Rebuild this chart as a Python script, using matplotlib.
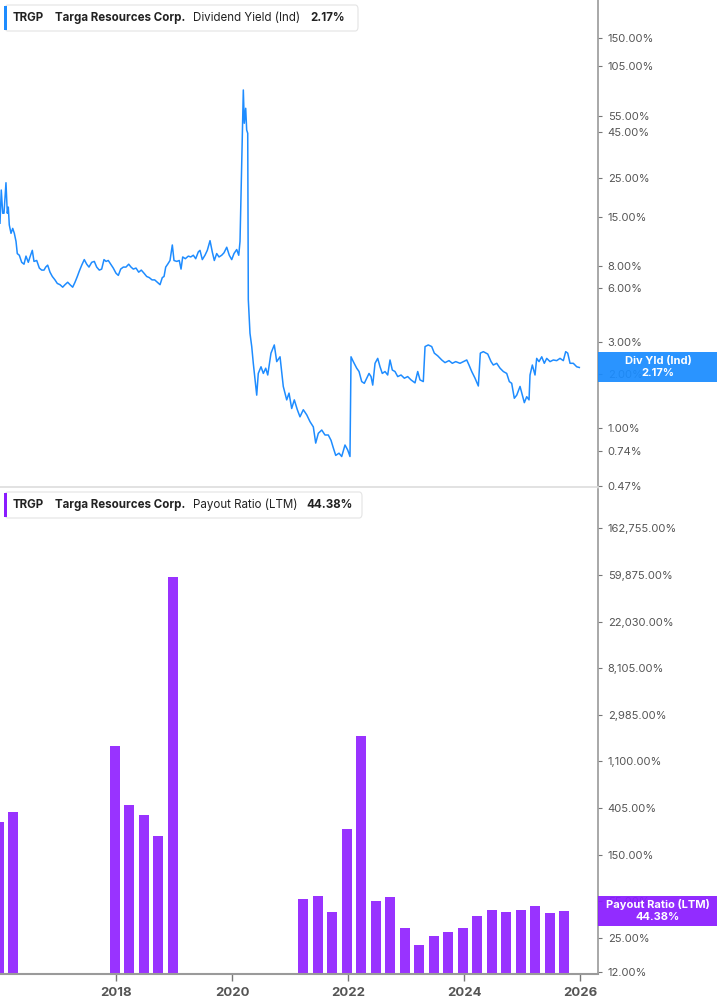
import matplotlib
matplotlib.use("Agg")
import matplotlib.pyplot as plt
from matplotlib.patches import Rectangle, FancyBboxPatch
from matplotlib.ticker import FixedLocator, NullLocator, FixedFormatter

plt.rcParams['font.family'] = ['Inter', 'DejaVu Sans']

# ---------------- data ----------------
ticker = "TRGP"
company = "Targa Resources Corp."
top_metric = "Dividend Yield (Ind)"
top_last_label = "2.17%"
bot_metric = "Payout Ratio (LTM)"
bot_last_label = "44.38%"

dy_year = [2016.000, 2016.022, 2016.047, 2016.069, 2016.103, 2016.126, 2016.143, 2016.160,
           2016.190, 2016.219, 2016.247, 2016.276, 2016.298, 2016.333, 2016.374, 2016.414,
           2016.448, 2016.488, 2016.517, 2016.557, 2016.586, 2016.633, 2016.678, 2016.719,
           2016.759, 2016.788, 2016.822, 2016.862, 2016.902, 2016.948, 2016.988, 2017.034,
           2017.081, 2017.121, 2017.167, 2017.207, 2017.253, 2017.293, 2017.333, 2017.367,
           2017.409, 2017.453, 2017.495, 2017.534, 2017.581, 2017.626, 2017.667, 2017.712,
           2017.753, 2017.793, 2017.828, 2017.867, 2017.909, 2017.953, 2018.000, 2018.040,
           2018.081, 2018.126, 2018.172, 2018.219, 2018.259, 2018.298, 2018.345, 2018.391,
           2018.436, 2018.483, 2018.529, 2018.574, 2018.621, 2018.667, 2018.712, 2018.759,
           2018.798, 2018.828, 2018.857, 2018.891, 2018.931, 2018.971, 2019.000, 2019.047,
           2019.091, 2019.121, 2019.150, 2019.195, 2019.247, 2019.288, 2019.333, 2019.374,
           2019.419, 2019.448, 2019.488, 2019.534, 2019.574, 2019.621, 2019.660, 2019.695,
           2019.736, 2019.776, 2019.822, 2019.862, 2019.909, 2019.953, 2019.995, 2020.034,
           2020.081, 2020.116, 2020.138, 2020.167, 2020.195, 2020.212, 2020.236, 2020.253,
           2020.271, 2020.281, 2020.310, 2020.340, 2020.367, 2020.426, 2020.453, 2020.500,
           2020.540, 2020.581, 2020.616, 2020.672, 2020.729, 2020.771, 2020.828, 2020.884,
           2020.943, 2020.983, 2021.029, 2021.074, 2021.126, 2021.172, 2021.229, 2021.288,
           2021.345, 2021.402, 2021.443, 2021.488, 2021.547, 2021.603, 2021.660, 2021.707,
           2021.747, 2021.788, 2021.845, 2021.891, 2021.948, 2021.995, 2022.034, 2022.052,
           2022.091, 2022.150, 2022.190, 2022.236, 2022.281, 2022.322, 2022.362, 2022.397,
           2022.426, 2022.466, 2022.512, 2022.552, 2022.591, 2022.638, 2022.684, 2022.724,
           2022.764, 2022.810, 2022.857, 2022.914, 2022.971, 2023.029, 2023.086, 2023.155,
           2023.202, 2023.241, 2023.298, 2023.328, 2023.384, 2023.443, 2023.488, 2023.547,
           2023.616, 2023.672, 2023.741, 2023.798, 2023.857, 2023.931, 2023.988, 2024.047,
           2024.086, 2024.133, 2024.190, 2024.247, 2024.281, 2024.333, 2024.409, 2024.466,
           2024.505, 2024.564, 2024.621, 2024.678, 2024.736, 2024.781, 2024.822, 2024.867,
           2024.909, 2024.966, 2025.005, 2025.040, 2025.081, 2025.121, 2025.138, 2025.178,
           2025.224, 2025.253, 2025.293, 2025.340, 2025.384, 2025.426, 2025.483, 2025.540,
           2025.598, 2025.655, 2025.712, 2025.753, 2025.788, 2025.828, 2025.884, 2025.943,
           2025.988]
dy_value = [13.9, 21.3, 15.8, 15.8, 23.4, 15.8, 17.1, 13.6,
            12.2, 13.0, 12.2, 11.0, 9.4, 9.2, 8.4, 8.2,
            9.1, 8.4, 9.0, 9.8, 8.5, 8.6, 7.8, 7.6,
            7.6, 7.9, 8.1, 7.4, 7.0, 6.7, 6.4, 6.3,
            6.1, 6.3, 6.5, 6.3, 6.1, 6.5, 7.0, 7.5,
            8.1, 8.7, 8.2, 7.9, 8.4, 8.5, 7.9, 7.6,
            7.7, 8.7, 8.5, 8.6, 8.2, 7.8, 7.3, 7.1,
            7.7, 7.9, 7.9, 8.2, 7.9, 7.7, 7.8, 7.4,
            7.6, 7.3, 7.0, 6.9, 6.7, 6.7, 6.5, 6.3,
            6.9, 7.0, 7.9, 8.2, 8.6, 10.5, 8.6, 8.5,
            8.6, 7.7, 9.0, 8.8, 9.1, 9.0, 9.2, 8.8,
            9.6, 9.8, 8.7, 9.2, 9.8, 11.1, 9.6, 8.6,
            9.4, 9.0, 9.2, 9.5, 10.2, 9.2, 8.7, 9.4,
            9.9, 9.2, 11.0, 28.8, 77.2, 50.3, 61.0, 46.1,
            44.2, 5.2, 3.37, 2.84, 2.29, 1.52, 2.01, 2.19,
            2.01, 2.15, 1.97, 2.61, 2.90, 2.34, 2.49, 1.70,
            1.43, 1.56, 1.28, 1.43, 1.26, 1.15, 1.26, 1.18,
            1.08, 1.01, 0.82, 0.93, 0.97, 0.91, 0.91, 0.85,
            0.77, 0.70, 0.72, 0.69, 0.80, 0.75, 0.69, 2.49,
            2.34, 2.15, 2.06, 1.81, 1.77, 1.89, 2.01, 1.93,
            1.73, 2.29, 2.44, 2.19, 2.01, 2.06, 1.97, 2.39,
            2.10, 2.06, 1.93, 1.97, 1.89, 1.93, 1.85, 1.78,
            2.06, 1.85, 1.81, 2.84, 2.90, 2.84, 2.61, 2.52,
            2.39, 2.31, 2.37, 2.29, 2.34, 2.29, 2.34, 2.39,
            2.24, 2.06, 1.89, 1.71, 2.61, 2.66, 2.58, 2.34,
            2.24, 2.29, 2.15, 2.06, 2.01, 1.81, 1.77, 1.46,
            1.52, 1.70, 1.52, 1.38, 1.49, 1.43, 1.97, 2.24,
            1.97, 2.44, 2.34, 2.49, 2.29, 2.44, 2.34, 2.39,
            2.37, 2.44, 2.37, 2.66, 2.61, 2.29, 2.29, 2.19,
            2.17]

pr_year = [2015, 2016, 2017, 2018, 2018, 2018, 2018,
           2021, 2021, 2021, 2021, 2022, 2022, 2022, 2022,
           2023, 2023, 2023, 2023, 2024, 2024, 2024, 2024,
           2025, 2025, 2025]
pr_quarter = [4, 1, 4, 1, 2, 3, 4,
              1, 2, 3, 4, 1, 2, 3, 4,
              1, 2, 3, 4, 1, 2, 3, 4,
              1, 2, 3]
pr_value = [301, 373, 1533, 433, 350, 223, 57200,
            57.5, 61.8, 43.8, 259, 1910, 55.5, 60.0, 31.1,
            21.6, 26.4, 28.6, 31.1, 40.0, 46.0, 43.8, 46.0,
            50.2, 42.9, 44.38]

top_ticks = [150, 105, 55, 45, 25, 15, 8, 6, 3, 2, 1, 0.74, 0.47]
bot_ticks = [162755, 59875, 22030, 8105, 2985, 1100, 405, 150, 55, 25, 12]
year_ticks = [2018, 2020, 2022, 2024, 2026]

# ---------------- style ----------------
W, H = 717, 1005
BLUE = "#1E8CFF"
BLUE_BOX = "#1A8CFF"
PURPLE = "#9933FF"
PURPLE_BOX = "#8A1CFF"
TICKC = "#555555"
AXC = "#9a9a9a"

fig = plt.figure(figsize=(W / 100, H / 100), dpi=100)

def fx(px):
    return px / W

def fy(py):
    return 1 - py / H

ax_right = 598
top_bot = 487.5
bot_top = 489
bot_bot = 974

ax1 = fig.add_axes([0, fy(top_bot), fx(ax_right), top_bot / H])
ax2 = fig.add_axes([0, fy(bot_bot), fx(ax_right), (bot_bot - bot_top) / H])

xlim = (2016.0, 2026.31)

# top panel
ax1.plot(dy_year, dy_value, color=BLUE, lw=1.1, solid_joinstyle='round')
ax1.set_yscale('log')
ax1.set_ylim(0.463, 245.8)
ax1.set_xlim(*xlim)

# bottom panel
bar_x = [y + q * 0.25 - 0.025 for y, q in zip(pr_year, pr_quarter)]
ybase = 11.6
ax2.bar(bar_x, [v - ybase for v in pr_value], bottom=ybase, width=0.172,
        color=PURPLE, edgecolor='none')
ax2.set_yscale('log')
ax2.set_ylim(ybase, 377000)
ax2.set_xlim(*xlim)

for ax, ticks in ((ax1, top_ticks), (ax2, bot_ticks)):
    ax.yaxis.tick_right()
    ax.yaxis.set_major_locator(FixedLocator(ticks))
    ax.yaxis.set_major_formatter(FixedFormatter([f"{v:,.2f}%" for v in ticks]))
    ax.yaxis.set_minor_locator(NullLocator())
    ax.tick_params(axis='y', which='major', length=3, width=0.8, color="#777777",
                   labelsize=8, labelcolor=TICKC, pad=4)
    for s in ('left', 'top'):
        ax.spines[s].set_visible(False)
    ax.spines['right'].set_color(AXC)
    ax.spines['right'].set_linewidth(1.2)
    ax.set_facecolor('none')

ax1.spines['bottom'].set_color("#dddddd")
ax1.spines['bottom'].set_linewidth(1.2)
ax1.set_xticks([])

ax2.spines['bottom'].set_color(AXC)
ax2.spines['bottom'].set_linewidth(1.5)
ax2.set_xticks(year_ticks)
ax2.set_xticklabels([str(y) for y in year_ticks])
ax2.tick_params(axis='x', length=5, width=1, color="#777777", labelsize=9.5,
                labelcolor="#555555", pad=4)
for lab in ax2.get_xticklabels():
    lab.set_fontweight('bold')

# ---------------- legends (header boxes) ----------------
HDR_FS = 8.3

def header(y_center, color, metric, value, value_x, box_w):
    box = FancyBboxPatch((fx(5), fy(y_center + 13)), fx(box_w), 26 / H,
                         boxstyle="round,pad=0,rounding_size=0.004",
                         transform=fig.transFigure, facecolor='white',
                         edgecolor="#e4e4e4", lw=0.8, zorder=5)
    fig.patches.append(box)
    bar = Rectangle((fx(4), fy(y_center + 12)), fx(3), 24 / H, transform=fig.transFigure,
                    facecolor=color, edgecolor='none', zorder=6)
    fig.patches.append(bar)
    yy = fy(y_center)
    fig.text(fx(13), yy, ticker, fontsize=HDR_FS, fontweight='bold', color="#222222",
             va='center', zorder=7)
    fig.text(fx(55), yy, company, fontsize=HDR_FS, fontweight='bold', color="#222222",
             va='center', zorder=7)
    fig.text(fx(193), yy, metric, fontsize=HDR_FS, color="#222222", va='center', zorder=7)
    fig.text(fx(value_x), yy, value, fontsize=HDR_FS, fontweight='bold', color="#222222",
             va='center', zorder=7)

header(18, BLUE, top_metric, top_last_label, 310, 353)
header(505, "#8A1CFF", bot_metric, bot_last_label, 306, 357)

# ---------------- last value boxes on right axis ----------------
def last_box(ax, value, color, line1, line2):
    _, ydisp = ax.transData.transform((xlim[1], value))
    py = H - ydisp
    rect = Rectangle((fx(ax_right), fy(py + 15)), fx(W - ax_right), 30 / H,
                     transform=fig.transFigure, facecolor=color, edgecolor='none',
                     alpha=0.93, zorder=5)
    fig.patches.append(rect)
    fig.text(fx(658), fy(py - 6.5), line1, fontsize=8, fontweight='bold', color='white',
             ha='center', va='center', zorder=7)
    fig.text(fx(658), fy(py + 6), line2, fontsize=8, fontweight='bold', color='white',
             ha='center', va='center', zorder=7)

last_box(ax1, dy_value[-1], BLUE_BOX, "Div Yld (Ind)", top_last_label)
last_box(ax2, pr_value[-1], PURPLE_BOX, bot_metric, bot_last_label)

fig.savefig("out.png", dpi=100)
